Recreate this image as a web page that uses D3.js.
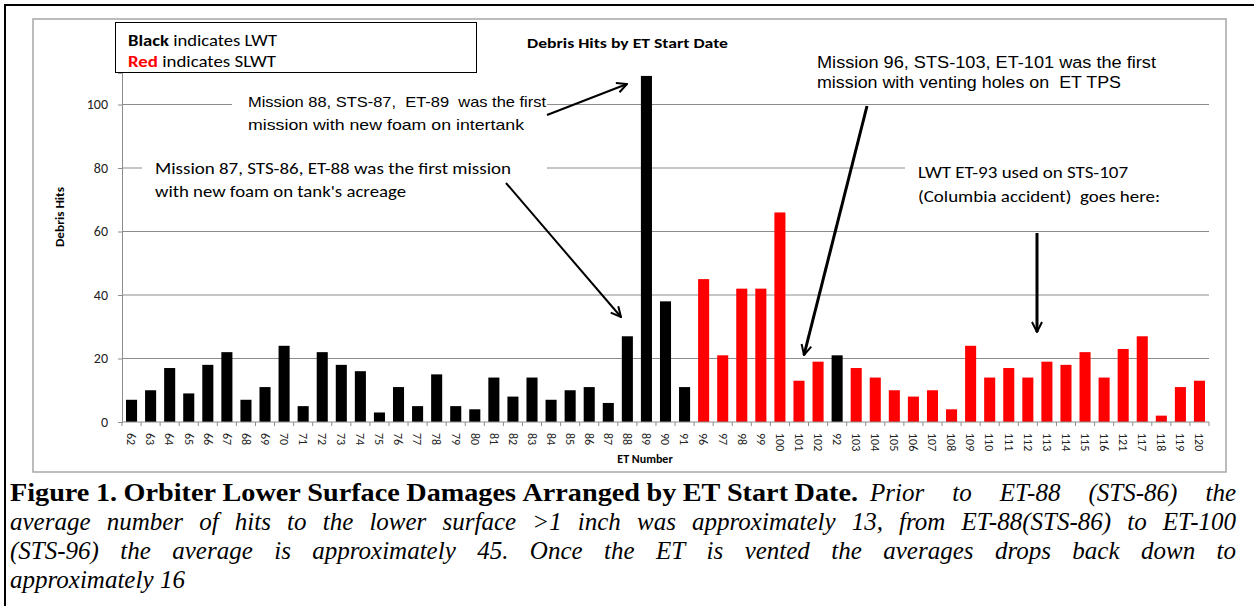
<!DOCTYPE html>
<html>
<head>
<meta charset="utf-8" />
<style>
  body { margin: 0; background: #fff; }
  svg { display: block; }
  .cal { font-family: Carlito, Lato, "Liberation Sans", sans-serif; }
  .ari { font-family: "Liberation Sans", Arial, sans-serif; }
  .tms { font-family: "Liberation Serif", "Times New Roman", Tinos, serif; }
</style>
</head>
<body>
<div id="chart"></div>
<script src="https://cdnjs.cloudflare.com/ajax/libs/d3/7.8.5/d3.min.js"></script>
<script>
// categories in ET start-date order
var etNumbers = ["62","63","64","65","66","67","68","69","70","71","72","73","74","75","76","77","78","79",
  "80","81","82","83","84","85","86","87","88","89","90","91",
  "96","97","98","99","100","101","102","92",
  "103","104","105","106","107","108","109","110","111","112","113","114","115","116",
  "121","117","118","119","120"];
var debrisHits = [7,10,17,9,18,22,7,11,24,5,22,18,16,3,11,5,15,5,
  4,14,8,14,7,10,11,6,27,109,38,11,
  45,21,42,42,66,13,19,21,
  17,14,10,8,10,4,24,14,17,14,19,18,22,14,
  23,27,2,11,13];
var tankType = ["LWT","LWT","LWT","LWT","LWT","LWT","LWT","LWT","LWT","LWT","LWT","LWT","LWT","LWT","LWT","LWT","LWT","LWT",
  "LWT","LWT","LWT","LWT","LWT","LWT","LWT","LWT","LWT","LWT","LWT","LWT",
  "SLWT","SLWT","SLWT","SLWT","SLWT","SLWT","SLWT","LWT",
  "SLWT","SLWT","SLWT","SLWT","SLWT","SLWT","SLWT","SLWT","SLWT","SLWT","SLWT","SLWT","SLWT","SLWT",
  "SLWT","SLWT","SLWT","SLWT","SLWT"];
var yTicks = [0, 20, 40, 60, 80, 100];
var typeColor = { LWT: "#000000", SLWT: "#ff0000" };

(function() {
var width = 1254, height = 606;
var plotLeft = 122, plotRight = 1209, plotTop = 72.75, plotBottom = 422;

var svg = d3.select("#chart").append("svg")
  .attr("width", width).attr("height", height);

svg.append("defs").append("marker")
  .attr("id", "head")
  .attr("viewBox", "0 0 12 12")
  .attr("refX", 11).attr("refY", 6)
  .attr("markerWidth", 12).attr("markerHeight", 12)
  .attr("markerUnits", "userSpaceOnUse")
  .attr("orient", "auto")
  .append("path")
  .attr("d", "M1,1 L11,6 L1,11")
  .attr("fill", "none").attr("stroke", "#000").attr("stroke-width", 2);

// outer frame of the figure (top and left edges show)
svg.append("path").attr("d", "M5,606 L5,5 L1254,5")
  .attr("fill", "none").attr("stroke", "#000").attr("stroke-width", 2);

// chart area
svg.append("rect").attr("x", 33).attr("y", 19).attr("width", 1193).attr("height", 453)
  .attr("fill", "#fff").attr("stroke", "#a6a6a6").attr("stroke-width", 1.5);

var x = d3.scaleBand().domain(etNumbers).range([plotLeft, plotRight])
  .paddingInner(0.42).paddingOuter(0.21);
var y = d3.scaleLinear().domain([0, 110]).range([plotBottom, plotTop]);

// gridlines
svg.append("g").selectAll("line").data(yTicks.slice(1)).enter().append("line")
  .attr("x1", plotLeft).attr("x2", plotRight)
  .attr("y1", function(d) { return y(d); }).attr("y2", function(d) { return y(d); })
  .attr("stroke", "#8c8c8c").attr("stroke-width", 1);

// bars
svg.append("g").selectAll("rect").data(etNumbers).enter().append("rect")
  .attr("x", function(d) { return x(d); })
  .attr("y", function(d, i) { return y(debrisHits[i]); })
  .attr("width", x.bandwidth())
  .attr("height", function(d, i) { return y(0) - y(debrisHits[i]); })
  .attr("fill", function(d, i) { return typeColor[tankType[i]]; });

// y axis
var yAxis = svg.append("g").attr("transform", "translate(" + plotLeft + ",0)")
  .call(d3.axisLeft(y).tickValues(yTicks).tickSize(4).tickPadding(10));
yAxis.select(".domain").attr("stroke", "#8c8c8c");
yAxis.selectAll(".tick line").attr("stroke", "#8c8c8c");
yAxis.selectAll("text").attr("class", "cal").attr("font-size", 14).attr("fill", "#222");

// x axis: ticks between categories, labels rotated
var xg = svg.append("g");
xg.append("line").attr("x1", plotLeft).attr("x2", plotRight).attr("y1", plotBottom).attr("y2", plotBottom)
  .attr("stroke", "#8c8c8c");
var step = x.step();
xg.selectAll(".tk").data(d3.range(etNumbers.length + 1)).enter().append("line")
  .attr("class", "tk")
  .attr("x1", function(i) { return plotLeft + i * step; })
  .attr("x2", function(i) { return plotLeft + i * step; })
  .attr("y1", plotBottom).attr("y2", plotBottom + 4)
  .attr("stroke", "#8c8c8c");
xg.selectAll("text").data(etNumbers).enter().append("text")
  .attr("class", "cal").attr("font-size", 12).attr("fill", "#222")
  .attr("transform", function(d) {
    return "translate(" + (x(d) + x.bandwidth() / 2) + "," + (plotBottom + 11) + ") rotate(90)";
  })
  .attr("dy", "0.35em")
  .text(function(d) { return d; });

// titles
svg.append("text").attr("class", "cal").attr("font-weight", "bold").attr("font-size", 14)
  .attr("x", 527).attr("y", 48).attr("textLength", 201).attr("lengthAdjust", "spacingAndGlyphs")
  .text("Debris Hits by ET Start Date");
svg.append("text").attr("class", "cal").attr("font-weight", "bold").attr("font-size", 12)
  .attr("x", 645).attr("y", 463).attr("text-anchor", "middle").text("ET Number");
svg.append("text").attr("class", "cal").attr("font-weight", "bold").attr("font-size", 12)
  .attr("transform", "translate(64,247) rotate(-90)")
  .attr("textLength", 60).attr("lengthAdjust", "spacingAndGlyphs").text("Debris Hits");

// annotations: white boxes hide gridlines behind the text
function note(cls, size, x0, lines, box) {
  svg.append("rect").attr("x", box[0]).attr("y", box[1]).attr("width", box[2]).attr("height", box[3])
    .attr("fill", "#fff");
  lines.forEach(function(l) {
    svg.append("text").attr("class", cls).attr("font-size", size)
      .attr("x", x0).attr("y", l[1])
      .attr("textLength", l[2]).attr("lengthAdjust", "spacingAndGlyphs")
      .attr("xml:space", "preserve")
      .text(l[0]);
  });
}
note("ari", 15, 248, [["Mission 88, STS-87,  ET-89  was the first", 107, 298],
                     ["mission with new foam on intertank", 130, 276]], [232, 88, 315, 50]);
note("cal", 16, 155, [["Mission 87, STS-86, ET-88 was the first mission", 174, 356],
                     ["with new foam on tank's acreage", 197, 251]], [142, 155, 405, 50]);
note("ari", 16, 817, [["Mission 96, STS-103, ET-101 was the first", 68, 339],
                     ["mission with venting holes on  ET TPS", 88, 304]], [810, 48, 360, 46]);
note("cal", 17, 918, [["LWT ET-93 used on STS-107", 178, 210],
                     ["(Columbia accident)  goes here:", 202, 242]], [905, 160, 310, 50]);

// arrows
var arrows = [[547, 115, 627, 84, 2], [506, 183, 621, 317, 2], [867, 106, 804, 355, 3], [1037, 233, 1037, 332, 3]];
svg.append("g").selectAll("line").data(arrows).enter().append("line")
  .attr("x1", function(d) { return d[0]; }).attr("y1", function(d) { return d[1]; })
  .attr("x2", function(d) { return d[2]; }).attr("y2", function(d) { return d[3]; })
  .attr("stroke", "#000").attr("stroke-width", function(d) { return d[4]; })
  .attr("marker-end", "url(#head)");

// legend box
svg.append("rect").attr("x", 115.5).attr("y", 22.5).attr("width", 361).attr("height", 50)
  .attr("fill", "#fff").attr("stroke", "#000").attr("stroke-width", 1);
var lg1 = svg.append("text").attr("class", "cal").attr("font-size", 16).attr("x", 128).attr("y", 46)
  .attr("textLength", 149).attr("lengthAdjust", "spacingAndGlyphs");
lg1.append("tspan").attr("font-weight", "bold").text("Black");
lg1.append("tspan").text(" indicates LWT");
var lg2 = svg.append("text").attr("class", "cal").attr("font-size", 16).attr("x", 128).attr("y", 67)
  .attr("textLength", 148).attr("lengthAdjust", "spacingAndGlyphs");
lg2.append("tspan").attr("font-weight", "bold").attr("fill", "#ff0000").text("Red");
lg2.append("tspan").text(" indicates SLWT");

// figure caption, justified word by word
var captionLines = [
  [["b", "Figure 1. Orbiter Lower Surface Damages Arranged by ET Start Date."], ["i", "Prior to ET-88 (STS-86) the"]],
  [["i", "average number of hits to the lower surface >1 inch was approximately 13, from ET-88(STS-86) to ET-100"]],
  [["i", "(STS-96) the average is approximately 45. Once the ET is vented the averages drops back down to"]],
  [["i", "approximately 16"]]
];
// horizontal span of each segment [start, end, justified]
var captionSpans = [
  [[10, 858, true], [870, 1236, true]],
  [[10, 1236, true]],
  [[10, 1236, true]],
  [[10, 185, false]]
];
var capSize = 26;
function styleWord(t, s) {
  t.attr("class", "tms").attr("font-size", capSize)
    .attr("font-weight", s === "b" ? "bold" : "normal")
    .attr("font-style", s === "i" ? "italic" : "normal");
}
var probe = svg.append("text");
function spaceWidth(s) {
  styleWord(probe, s);
  probe.text("a b");
  var w = probe.node().getComputedTextLength();
  probe.text("ab");
  return w - probe.node().getComputedTextLength();
}
var spaceW = { b: spaceWidth("b"), i: spaceWidth("i") };

var segs = [];
captionLines.forEach(function(line, li) {
  line.forEach(function(s, si) {
    var words = s[1].split(" ").map(function(w) {
      styleWord(probe, s[0]);
      probe.text(w);
      return { w: w, len: probe.node().getComputedTextLength() };
    });
    var span = captionSpans[li][si];
    segs.push({ style: s[0], words: words, x0: span[0], x1: span[1], justify: span[2], line: li,
      sum: d3.sum(words, function(o) { return o.len; }) });
  });
});
function fitK(sg) {
  return (sg.x1 - sg.x0 - spaceW[sg.style] * (sg.words.length - 1)) / sg.sum;
}
// italic scale from the tightest full-width italic line, bold fitted to its own span
var kItalic = d3.min(segs.filter(function(sg) { return sg.style === "i" && sg.line > 0; }), fitK);
segs.forEach(function(sg) {
  var k = sg.style === "b" ? fitK(sg) : kItalic;
  var sum = sg.sum * k;
  var gap = sg.justify ? (sg.x1 - sg.x0 - sum) / (sg.words.length - 1) : spaceW[sg.style];
  var cx = sg.x0, by = 501 + sg.line * 29;
  sg.words.forEach(function(o) {
    var t = svg.append("text").attr("x", cx).attr("y", by);
    styleWord(t, sg.style);
    t.attr("textLength", o.len * k).attr("lengthAdjust", "spacingAndGlyphs").text(o.w);
    cx += o.len * k + gap;
  });
});
probe.remove();
})();
</script>
</body>
</html>
